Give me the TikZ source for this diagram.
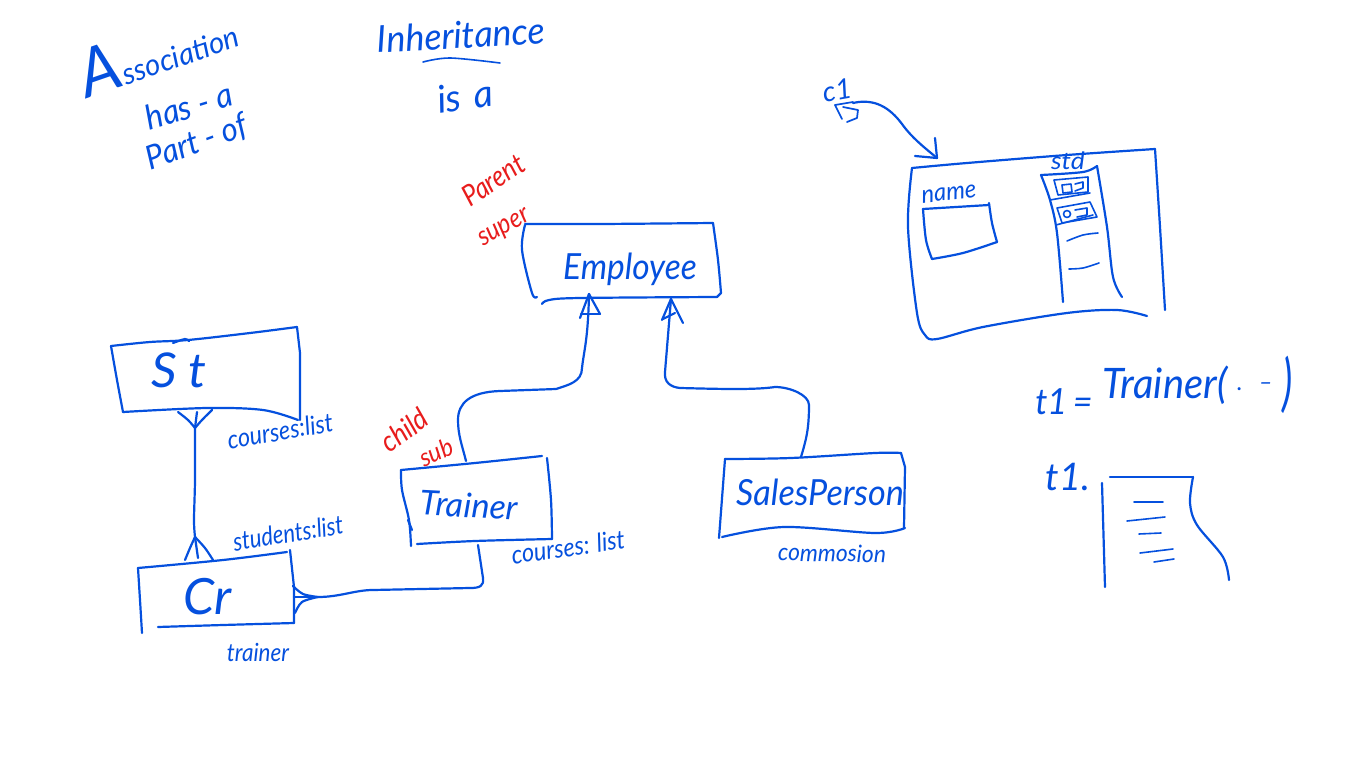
\documentclass[tikz,border=0pt]{standalone}
\usepackage{fontspec}
\setmainfont{Lato}
\definecolor{inkblue}{RGB}{5,80,222}
\definecolor{inkred}{RGB}{232,28,28}
\tikzset{
  ink/.style={draw=inkblue,line width=2.2pt,line cap=round,line join=round},
  thin ink/.style={ink,line width=1.6pt},
  hand/.style={text=inkblue,inner sep=0pt,font=\itshape,transform shape},
  redhand/.style={hand,text=inkred},
  fs/.style={font=\itshape\fontsize{#1}{#1}\selectfont},
}
\newcommand{\wob}[1]{plot[smooth,tension=.55] coordinates {#1}}
\begin{document}
\begin{tikzpicture}[x=1pt,y=-1pt]
\useasboundingbox[fill=white] (0,0) rectangle (1366,768);

% headings
\node[hand,fs=30,rotate=19,xscale=.98] (assoc) at (157,50) {{\fontsize{66}{66}\selectfont A}ssociation};
\node[hand,fs=34,rotate=17,xscale=.95] (hasa) at (189,106) {has - a};
\node[hand,fs=33,rotate=20,xscale=.95] (partof) at (197,143) {Part - of};
\node[hand,fs=37,rotate=3,xscale=.97] (inherit) at (461,35) {Inheritance};
\draw[thin ink] \wob{(423,62) (450,58) (500,63)};
\node[hand,fs=38,rotate=8] (isa) at (465,96) {is\,\,a};

% red labels
\node[redhand,fs=29,rotate=34,xscale=.88] (parent) at (493,180) {Parent};
\node[redhand,fs=27,rotate=30,xscale=.9] (super) at (505,229) {super};
\node[redhand,fs=29,rotate=36,xscale=.9] (child) at (404,430) {child};
\node[redhand,fs=25,rotate=25,xscale=.95] (sub) at (436,452) {sub};

% class labels
\node[hand,fs=36,xscale=.93] (employee) at (630,269) {Employee};
\node[hand,fs=48,xscale=1.05] (st) at (179,370) {S t};
\node[hand,fs=50] (cr) at (208,597) {Cr};
\node[hand,fs=34,rotate=-3] (trainer) at (469,505) {Trainer};
\node[hand,fs=36,xscale=.95] (sales) at (820,492) {SalesPerson};

% attribute labels
\node[hand,fs=26,rotate=10,xscale=.9] (courses1) at (280,431) {courses:list};
\node[hand,fs=26,rotate=9,xscale=.85] (students) at (288,533) {students:list};
\node[hand,fs=25,xscale=.9] (trainerattr) at (258,652) {trainer};
\node[hand,fs=26,rotate=8,xscale=.9] (courses2) at (568,547) {courses: list};
\node[hand,fs=24,rotate=-1,xscale=.95] (commosion) at (832,553) {commosion};

% St box
\draw[ink] \wob{(111,346) (150,342) (188,340) (250,333) (297,327)};
\draw[ink] \wob{(173,343) (185,339) (189,341)};
\draw[ink] \wob{(111,346) (117,380) (123,412)};
\draw[ink] \wob{(123,412) (207,408) (263,410) (298,420)};
\draw[ink] (297,327) -- (300,353) -- (300,420);
% Cr box
\draw[ink] \wob{(138,568) (223,560) (287,552)};
\draw[ink] \wob{(138,568) (140,600) (142,633)};
\draw[ink] \wob{(158,627) (223,625) (294,623)};
\draw[ink] (290,550) -- (294,587) -- (294,623);
% Trainer box
\draw[ink] \wob{(401,470) (475,463) (542,456)};
\draw[ink] \wob{(547,458) (551,500) (552,539)};
\draw[ink] \wob{(401,470) (402,490) (409,520) (411,546)};
\draw[ink] (408,520) -- (412,530);
\draw[ink] \wob{(417,544) (475,541) (552,539)};
% SalesPerson box
\draw[ink] \wob{(725,459) (791,458) (875,453) (901,453)};
\draw[ink] (901,453) -- (905,467) -- (904,528);
\draw[ink] (725,459) -- (719,538);
\draw[ink] \wob{(722,537) (784,527) (875,533) (905,528)};
% Employee box
\draw[ink] \wob{(525,224) (600,224) (713,223)};
\draw[ink] \wob{(713,223) (718,260) (721,293)};
\draw[ink] \wob{(525,225) (522,250) (532,293) (537,297)};
\draw[ink] \wob{(542,304) (549,300) (580,298) (717,297)};
\draw[ink] (717,297) -- (721,293);

% named connector ends
\coordinate (stfoot) at (195,428);
\coordinate (crfoot) at (195,537);
\coordinate (crtip) at (318,597);
\coordinate (trainerlow) at (478,545);
\coordinate (trainertop) at (466,461);
\coordinate (emptipa) at (589,294);
\coordinate (salestop) at (801,457);
\coordinate (emptipb) at (671,299);

% St - Cr
\draw[ink] \wob{(stfoot) (195,480) (194,520) (crfoot)};
\draw[ink] \wob{(178,412) (188,420) (stfoot)};
\draw[ink] (197,412) -- (stfoot);
\draw[ink] \wob{(212,410) (202,420) (stfoot)};
\draw[ink] \wob{(crfoot) (190,548) (185,560)};
\draw[ink] (crfoot) -- (198,558);
\draw[ink] \wob{(crfoot) (205,548) (213,560)};
% Cr - Trainer
\draw[ink] (crtip) .. controls (340,597) and (355,590) .. (373,590) -- (470,588) .. controls (480,588) and (484,586) .. (483,578) -- (trainerlow);
\draw[ink] \wob{(293,586) (303,594) (crtip)};
\draw[ink] (294,597) -- (crtip);
\draw[ink] \wob{(295,613) (302,602) (crtip)};
% Trainer - Employee
\draw[ink] (trainertop) .. controls (462,445) and (458,435) .. (458,420) .. controls (458,403) and (470,392) .. (500,391) -- (556,389) .. controls (568,385) and (582,382) .. (582,368) .. controls (584,350) and (588,340) .. (emptipa);
\draw[ink] (emptipa) -- (580,318);
\draw[ink] (emptipa) -- (600,314);
\draw[ink] (581,314) -- (600,314);
% SalesPerson - Employee
\draw[ink] (salestop) .. controls (806,440) and (809,430) .. (809,405) .. controls (809,395) and (790,387) .. (775,387) .. controls (755,390) and (720,389) .. (680,388) .. controls (670,387) and (664,382) .. (665,372) -- (emptipb);
\draw[ink] (emptipb) -- (662,320);
\draw[ink] (emptipb) -- (683,323);
\draw[ink] (663,319) -- (675,313);

% object c1 and form
\node[hand,fs=28,rotate=10] (cone) at (837,90) {c1};
\draw[ink,line width=1.7pt] (853,102) -- (835,105) -- (842,119);
\draw[ink,line width=1.7pt] (843,107) -- (858,110) -- (857,118) -- (847,122);
\coordinate (arrowstart) at (853,103);
\coordinate (arrowtip) at (937,158);
\draw[ink] (arrowstart) .. controls (875,98) and (890,108) .. (902,124) .. controls (912,138) and (925,148) .. (arrowtip);
\draw[ink] (915,156) -- (arrowtip) -- (935,138);

\draw[ink] \wob{(912,168) (967,163) (1067,155) (1155,149)};
\draw[ink] \wob{(1155,149) (1160,227) (1165,310)};
\draw[ink] \wob{(912,168) (908,227) (917,313) (925,335) (937,339) (983,327) (1067,313) (1117,310) (1147,316)};

\node[hand,fs=25,rotate=6,xscale=.95] (nameattr) at (949,194) {name};
\draw[ink] \wob{(923,209) (989,205)};
\draw[ink] \wob{(989,203) (992,223) (997,242)};
\draw[ink] \wob{(997,242) (963,253) (932,259)};
\draw[ink] \wob{(932,259) (926,240) (923,209)};

\node[hand,fs=24,xscale=1.1] (std) at (1068,161) {std};
\draw[ink] \wob{(1041,175) (1083,172) (1097,166)};
\draw[ink] \wob{(1097,166) (1107,227) (1113,277) (1122,297)};
\draw[ink] \wob{(1041,175) (1050,200) (1057,233) (1063,302)};
\draw[thin ink] (1054,180) -- (1088,177) -- (1088,192) -- (1058,195) -- cycle;
\draw[thin ink] (1050,200) -- (1090,193);
\draw[thin ink] (1062,185) -- (1071,184) -- (1072,192) -- (1063,193) -- cycle;
\draw[thin ink] (1075,184) -- (1083,182) -- (1083,188) -- (1075,191);
\draw[thin ink] (1057,208) -- (1090,202) -- (1097,217) -- (1062,223) -- cycle;
\draw[thin ink] (1056,225) -- (1093,215);
\draw[thin ink] (1067,214) circle[radius=3.5];
\draw[thin ink] (1075,210) -- (1087,208) -- (1087,215) -- (1077,217);
\draw[thin ink] \wob{(1067,241) (1083,235) (1098,233)};
\draw[thin ink] \wob{(1069,269) (1083,268) (1099,263)};

% t1 notes
\node[hand,fs=36,xscale=.95] (tone) at (1064,402) {t1\,=};
\node[hand,fs=42,xscale=.95] (ctor) at (1165,385) {Trainer(};
\node[hand,fs=24] (args) at (1255,387) {.\,\,\,\,--};
\node[hand,fs=50,yscale=1.25,xscale=.8] (paren) at (1288,385) {)};
\node[hand,fs=38] (toneb) at (1068,477) {t1.};

\draw[ink] (1110,477) -- (1193,477);
\draw[ink] \wob{(1193,477) (1190,503) (1197,525) (1223,557) (1229,580)};
\draw[ink] (1102,483) -- (1105,587);
\draw[thin ink] (1134,502) -- (1163,502);
\draw[thin ink] (1127,521) -- (1165,517);
\draw[thin ink] (1139,534) -- (1161,533);
\draw[thin ink] (1140,553) -- (1173,549);
\draw[thin ink] (1154,562) -- (1174,559);
\end{tikzpicture}
\end{document}
